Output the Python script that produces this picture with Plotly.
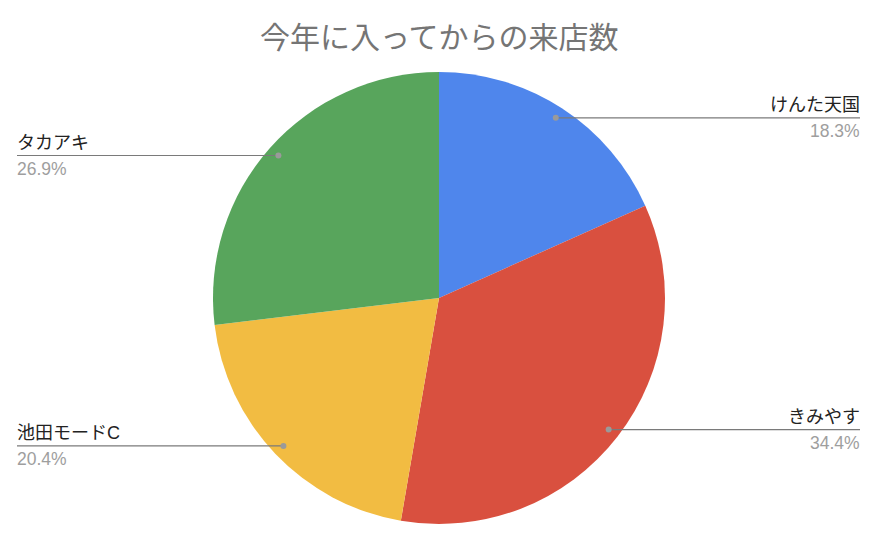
import math
import plotly.graph_objects as go

labels = ["けんた天国", "きみやす", "池田モードC", "タカアキ"]
values = [18.3, 34.4, 20.4, 26.9]
colors = ["#4F86EC", "#D9503F", "#F2BC42", "#58A55C"]
title = "今年に入ってからの来店数"

# page has an 8px body margin, so work in figure pixels = page pixels - 8
OFF = 8
W, H = 876 - 2 * OFF, 544 - 2 * OFF
cx, cy, r = 439 - OFF, 298 - OFF, 226

fig = go.Figure()
fig.add_trace(go.Pie(
    labels=labels, values=values, sort=False, direction="clockwise", rotation=0,
    marker=dict(colors=colors, line=dict(width=0)),
    textinfo="none", hoverinfo="label+percent", showlegend=False,
    domain=dict(x=[(cx - r) / W, (cx + r) / W], y=[(H - cy - r) / H, (H - cy + r) / H]),
))

# leader lines, dots and labels from slice mid angles
total = sum(values)
acc = 0
shapes, annotations = [], []
for lab, v in zip(labels, values):
    mid = (acc + v / 2) / total * 2 * math.pi
    acc += v
    px = cx + 0.95 * r * math.sin(mid)
    py = cy - 0.95 * r * math.cos(mid)
    right = math.sin(mid) > 0
    edge = (860 if right else 17) - OFF
    shift = 2 if right else -2
    shapes.append(dict(type="line", xref="x", yref="y", x0=px, y0=py, x1=edge, y1=py,
                       line=dict(color="#7A7A7A", width=1.2)))
    shapes.append(dict(type="circle", xref="x", yref="y", x0=px - 3, y0=py - 3, x1=px + 3, y1=py + 3,
                       fillcolor="#9A9A9A", line=dict(width=0)))
    anchor = "right" if right else "left"
    annotations.append(dict(x=edge, y=py - 1, xref="x", yref="y", text=lab, showarrow=False,
                            xanchor=anchor, yanchor="bottom", xshift=shift,
                            font=dict(size=18, color="#222222")))
    annotations.append(dict(x=edge, y=py + 1, xref="x", yref="y", text=f"{v / total * 100:.1f}%",
                            showarrow=False, xanchor=anchor, yanchor="top", xshift=shift,
                            font=dict(size=17.5, color="#9E9E9E")))

annotations.append(dict(x=cx, y=35 - OFF, xref="x", yref="y", text=title, showarrow=False,
                        xanchor="center", yanchor="middle",
                        font=dict(size=30, color="#757575", family="Noto Sans CJK JP")))

fig.update_layout(
    width=W, height=H, margin=dict(l=0, r=0, t=0, b=0),
    paper_bgcolor="white", plot_bgcolor="rgba(0,0,0,0)",
    font=dict(family="Liberation Sans, Arial, Noto Sans CJK JP, sans-serif"),
    xaxis=dict(range=[0, W], visible=False, fixedrange=True),
    yaxis=dict(range=[H, 0], visible=False, fixedrange=True),
    shapes=shapes, annotations=annotations,
)

fig.write_html("out.html")
